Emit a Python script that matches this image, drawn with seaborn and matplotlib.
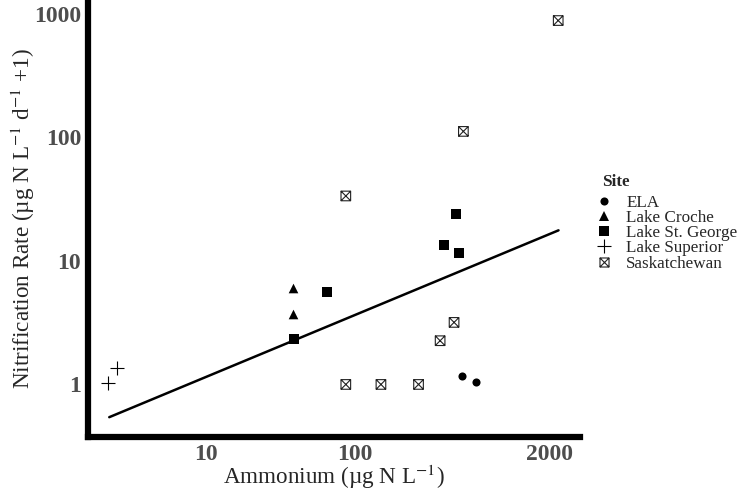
import numpy as np
import pandas as pd
import matplotlib
matplotlib.use("Agg")
import matplotlib.pyplot as plt
from matplotlib.path import Path
from matplotlib.lines import Line2D
import seaborn as sns

# ---------------- data ----------------
site = (["ELA"] * 2 + ["Lake Croche"] * 2 + ["Lake St. George"] * 5
        + ["Lake Superior"] * 2 + ["Saskatchewan"] * 8)
ammonium = [523, 646,
            38.3, 38.5,
            39.3, 65.3, 396, 472, 494,
            2.23, 2.54,
            86.7, 86.7, 149, 266, 371, 460, 531, 2291]
nitrif = [1.16, 1.04,
          6.0, 3.7,
          2.33, 5.56, 13.4, 24.2, 11.6,
          1.02, 1.35,
          33.6, 1.0, 1.0, 1.0, 2.26, 3.18, 112, 885]

fit_x = [2.26, 2302]
fit_y = [0.543, 17.7]

sites = ["ELA", "Lake Croche", "Lake St. George", "Lake Superior", "Saskatchewan"]

df = pd.DataFrame({"site": site, "ammonium": ammonium, "rate": nitrif})
fit = pd.DataFrame({"x": fit_x, "y": fit_y})

# ---------------- style ----------------
sns.set_style("white")
plt.rcParams["font.family"] = ["Liberation Serif", "DejaVu Serif"]
plt.rcParams["mathtext.fontset"] = "stix"

# square with an X inside (R pch 7)
box_x = Path(
    [(-1, -1), (1, -1), (1, 1), (-1, 1), (-1, -1), (-1, -1), (1, 1), (-1, 1), (1, -1)],
    [Path.MOVETO, Path.LINETO, Path.LINETO, Path.LINETO, Path.CLOSEPOLY,
     Path.MOVETO, Path.LINETO, Path.MOVETO, Path.LINETO],
)

MARK = {
    "ELA":             dict(marker="o", s=34, color="black", linewidth=0),
    "Lake Croche":     dict(marker="^", s=48, color="black", linewidth=0),
    "Lake St. George": dict(marker="s", s=42, color="black", linewidth=0),
    "Lake Superior":   dict(marker="+", s=90, color="black", linewidth=0.8),
    "Saskatchewan":    dict(marker=box_x, s=48, facecolor="none", edgecolor="#222222", linewidth=0.8),
}

fig = plt.figure(figsize=(7.4, 4.92), dpi=100)
ax = fig.add_axes([0.119, 0.112, 0.665, 0.888])

sns.lineplot(data=fit, x="x", y="y", color="black", linewidth=1.8, ax=ax)

for s in sites:
    sub = df[df["site"] == s]
    sns.scatterplot(data=sub, x="ammonium", y="rate", ax=ax, legend=False, **MARK[s])

ax.set_xscale("log")
ax.set_yscale("log")
ax.set_xlim(1.63, 3214)
ax.set_ylim(0.376, 1298)

ax.set_xticks([10, 100, 2000])
ax.set_xticklabels(["10", "100", "2000"])
ax.set_yticks([1, 10, 100, 1000])
ax.set_yticklabels(["1", "10", "100", "1000"])
ax.minorticks_off()
ax.tick_params(axis="both", which="major", direction="out", length=3, width=0.8,
               color="#333333", labelcolor="#4D4D4D", labelsize=17, pad=2)
for lab in ax.get_xticklabels() + ax.get_yticklabels():
    lab.set_fontweight("bold")

for side in ["top", "right"]:
    ax.spines[side].set_visible(False)
for side in ["left", "bottom"]:
    ax.spines[side].set_linewidth(4.5)
    ax.spines[side].set_color("black")

ax.set_xlabel("Ammonium (µg N L$^{-1}$)", fontsize=16.7, labelpad=-1.5)
ax.set_ylabel("Nitrification Rate (µg N L$^{-1}$ d$^{-1}$ +1)", fontsize=16.7, labelpad=-2.5)

# ---------------- legend ----------------
handles = []
for s in sites:
    kw = MARK[s]
    if s == "Saskatchewan":
        h = Line2D([], [], linestyle="none", marker=box_x, markersize=6.5,
                   markerfacecolor="none", markeredgecolor="#222222", markeredgewidth=0.8)
    elif s == "Lake Superior":
        h = Line2D([], [], linestyle="none", marker="+", markersize=10,
                   color="black", markeredgewidth=0.8)
    else:
        h = Line2D([], [], linestyle="none", marker=kw["marker"],
                   markersize=np.sqrt(kw["s"]), color="black", markeredgewidth=0)
    handles.append(h)

fig.text(0.8135, 1 - 182 / 492, "Site", fontsize=12.3, fontweight="bold",
         ha="left", va="center")
leg = fig.legend(handles, sites, loc="upper left",
                 bbox_to_anchor=(0.8115, 1 - 195 / 492), frameon=False, fontsize=12.3,
                 handletextpad=1.1, handlelength=0.4,
                 labelspacing=-0.05, borderaxespad=0, borderpad=0)

fig.savefig("out.png", dpi=100)
